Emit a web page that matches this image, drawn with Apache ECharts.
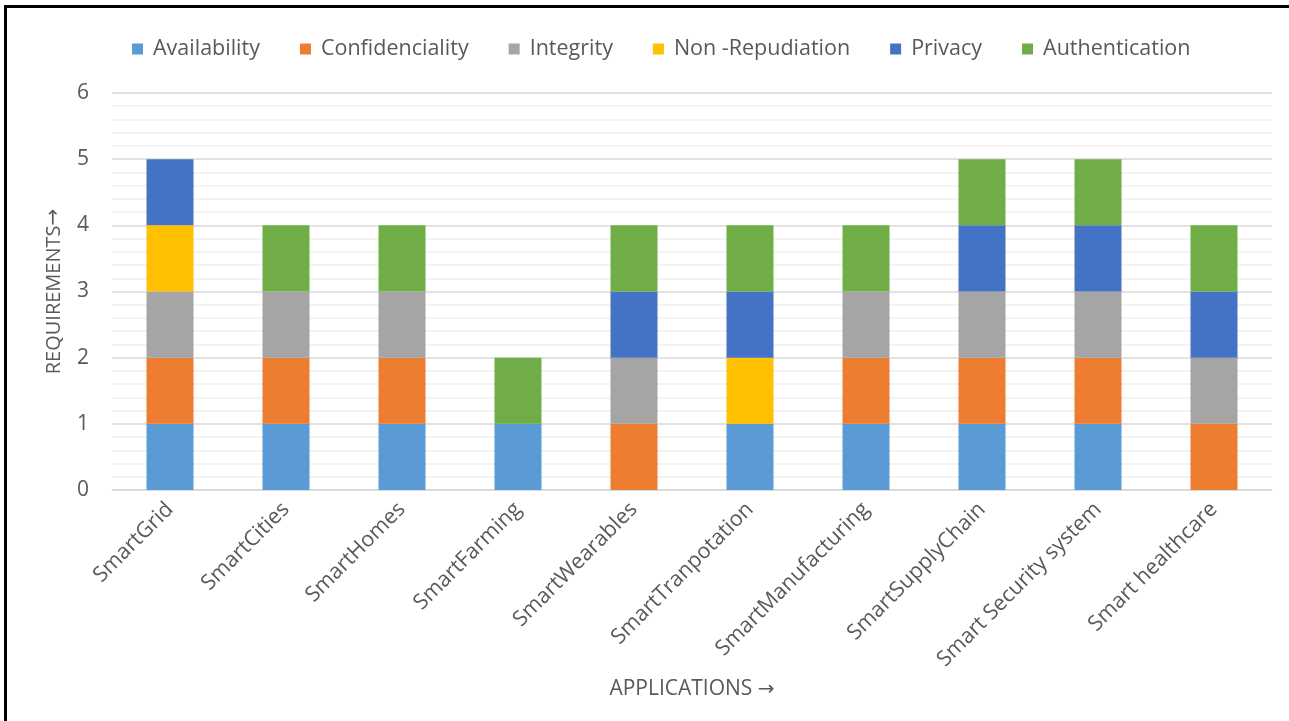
<!DOCTYPE html>
<html>
<head>
<meta charset="utf-8">
<script src="https://cdn.jsdelivr.net/npm/echarts@6/dist/echarts.min.js"></script>
<style>
  html, body { margin: 0; padding: 0; background: #fff; }
  #frame {
    position: absolute; left: 4px; top: 5px; width: 1285px; height: 716px;
    border-top: 3px solid #000; border-left: 3px solid #000;
  }
  #chart { position: absolute; left: -7px; top: -8px; width: 1289px; height: 721px; }
</style>
</head>
<body>
<div id="frame"><div id="chart"></div></div>
<script>
var categories = ['SmartGrid', 'SmartCities', 'SmartHomes', 'SmartFarming', 'SmartWearables',
  'SmartTranpotation', 'SmartManufacturing', 'SmartSupplyChain', 'Smart Security system', 'Smart healthcare']
var availability    = [1, 1, 1, 1, 0, 1, 1, 1, 1, 0]
var confidenciality = [1, 1, 1, 0, 1, 0, 1, 1, 1, 1]
var integrity       = [1, 1, 1, 0, 1, 0, 1, 1, 1, 1]
var nonRepudiation  = [1, 0, 0, 0, 0, 1, 0, 0, 0, 0]
var privacy         = [1, 0, 0, 0, 1, 1, 0, 1, 1, 1]
var authentication  = [0, 1, 1, 1, 1, 1, 1, 1, 1, 1]

var chart = echarts.init(document.getElementById('chart'))

function bar(name, data, color) {
  return {
    name: name,
    type: 'bar',
    stack: 'total',
    barWidth: 47,
    itemStyle: { color: color },
    data: data
  }
}

// arrow glyph drawn with DejaVu so it comes out full size
var arrowStyle = { fontFamily: 'DejaVu Sans', fontSize: 20, color: '#595959' }

var option = {
  backgroundColor: 'transparent',
  textStyle: { fontFamily: 'Open Sans' },
  legend: {
    top: 33,
    left: 127,
    itemWidth: 11,
    itemHeight: 11,
    itemGap: 40,
    icon: 'rect',
    textStyle: { fontSize: 21.5, color: '#595959', fontFamily: 'Open Sans', padding: [0, 0, 0, 5] }
  },
  grid: {
    left: 112,
    right: 17,
    top: 93,
    bottom: 231
  },
  xAxis: {
    type: 'category',
    data: categories,
    name: 'APPLICATIONS {a|→}',
    nameLocation: 'middle',
    nameGap: 189,
    nameTextStyle: { fontSize: 21, color: '#595959', rich: { a: arrowStyle } },
    axisLine: { lineStyle: { color: '#d9d9d9', width: 1.5 } },
    axisTick: { show: false },
    axisLabel: { rotate: 45, fontSize: 21.5, color: '#595959', margin: 16, interval: 0 }
  },
  yAxis: {
    type: 'value',
    min: 0,
    max: 6,
    interval: 1,
    name: 'REQUIREMENTS{a|→}',
    nameLocation: 'middle',
    nameGap: 48,
    nameTextStyle: { fontSize: 20, color: '#595959', rich: { a: arrowStyle } },
    axisLine: { show: false },
    axisTick: { show: false },
    axisLabel: { fontSize: 21, color: '#595959', margin: 23 },
    splitLine: { lineStyle: { color: '#d9d9d9', width: 1.5 } },
    minorTick: { show: false, splitNumber: 5 },
    minorSplitLine: { show: true, lineStyle: { color: '#efefef', width: 1.5 } }
  },
  series: [
    bar('Availability', availability, '#5b9bd5'),
    bar('Confidenciality', confidenciality, '#ed7d31'),
    bar('Integrity', integrity, '#a5a5a5'),
    bar('Non -Repudiation', nonRepudiation, '#ffc000'),
    bar('Privacy', privacy, '#4472c4'),
    bar('Authentication', authentication, '#70ad47')
  ]
}

chart.setOption(option)
</script>
</body>
</html>
